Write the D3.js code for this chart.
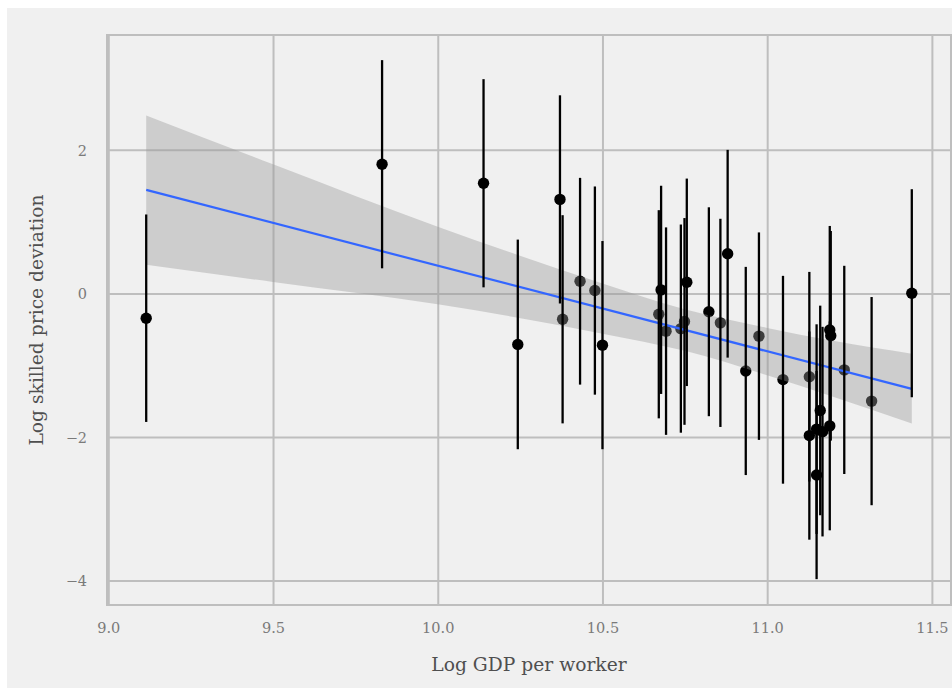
<!DOCTYPE html>
<html>
<head>
<meta charset="utf-8">
<script src="https://cdn.jsdelivr.net/npm/d3@7"></script>
<style>
  body { margin: 0; background: #ffffff; }
  text { font-family: "DejaVu Serif", serif; }
</style>
</head>
<body>
<div id="chart"></div>
<script>
// log GDP per worker, one entry per country
const gdp = [9.115, 9.831, 10.139, 10.371, 10.379, 10.243, 10.432, 10.477, 10.500, 10.671,
             10.678, 10.693, 10.738, 10.749, 10.756, 10.823, 10.858, 10.880, 10.935, 10.975,
             11.048, 11.128, 11.128, 11.150, 11.150, 11.161, 11.168, 11.190, 11.190, 11.193,
             11.234, 11.317, 11.439];
// log skilled price deviation (point estimate)
const price = [-0.345, 1.80, 1.535, 1.31, -0.36, -0.71, 0.17, 0.04, -0.72, -0.29,
               0.05, -0.525, -0.49, -0.39, 0.155, -0.255, -0.41, 0.553, -1.08, -0.595,
               -1.20, -1.16, -1.98, -1.89, -2.53, -1.63, -1.925, -1.845, -0.51, -0.59,
               -1.065, -1.50, 0.003];
// interval ends
const priceLow = [-1.79, 0.35, 0.085, -0.14, -1.81, -2.17, -1.27, -1.41, -2.17, -1.74,
                  -1.40, -1.97, -1.94, -1.83, -1.29, -1.71, -1.86, -0.894, -2.53, -2.04,
                  -2.65, -2.62, -3.43, -3.35, -3.98, -3.09, -3.385, -3.30, -1.96, -2.05,
                  -2.515, -2.95, -1.446];
const priceHigh = [1.10, 3.25, 2.985, 2.76, 1.09, 0.75, 1.61, 1.49, 0.73, 1.16,
                   1.50, 0.92, 0.96, 1.05, 1.60, 1.20, 1.04, 2.00, 0.37, 0.85,
                   0.245, 0.30, -0.53, -0.43, -1.08, -0.17, -0.465, -0.39, 0.94, 0.87,
                   0.385, -0.05, 1.452];

// fitted line and its confidence band
const fitX = [9.115, 11.439];
const fitY = [1.442, -1.330];
const bandX = [9.115, 9.5, 10.0, 10.5, 10.75, 11.0, 11.2, 11.439];
const bandLow = [0.40, 0.16, -0.15, -0.56, -0.80, -1.14, -1.44, -1.81];
const bandHigh = [2.48, 1.80, 0.93, 0.14, -0.22, -0.48, -0.66, -0.84];

const xTicks = [9.0, 9.5, 10.0, 10.5, 11.0, 11.5];
const yTicks = [-4, -2, 0, 2];

const W = 952, H = 688;
const panel = {left: 107, right: 951, top: 35, bottom: 605};

var svg = d3.select('#chart').append('svg')
    .attr('width', W)
    .attr('height', H);

// plot background
svg.append('rect')
    .attr('x', 7).attr('y', 8)
    .attr('width', W - 7).attr('height', H - 8)
    .attr('fill', '#f0f0f0');

var xScale = d3.scaleLinear().domain([8.996, 11.558]).range([panel.left, panel.right]);
var yScale = d3.scaleLinear().domain([-4.34, 3.60]).range([panel.bottom, panel.top]);

// grid via axes, labels styled after
var xAxis = d3.axisBottom(xScale)
    .tickValues(xTicks)
    .tickFormat(d3.format('.1f'))
    .tickSize(-(panel.bottom - panel.top))
    .tickPadding(18);

var yAxis = d3.axisLeft(yScale)
    .tickValues(yTicks)
    .tickFormat(d3.format('d'))
    .tickSize(-(panel.right - panel.left))
    .tickPadding(20);

var gx = svg.append('g')
    .attr('class', 'x axis')
    .attr('transform', 'translate(0,' + panel.bottom + ')')
    .call(xAxis);

var gy = svg.append('g')
    .attr('class', 'y axis')
    .attr('transform', 'translate(' + panel.left + ',0)')
    .call(yAxis);

svg.selectAll('.axis .domain').remove();
svg.selectAll('.axis .tick line')
    .attr('stroke', '#bebebe')
    .attr('stroke-width', 2);
svg.selectAll('.axis .tick text')
    .attr('fill', '#7a7a7a')
    .style('font-size', '14.5px');
gy.selectAll('.tick text').attr('dy', '0.36em');

// panel border
svg.append('rect')
    .attr('x', panel.left).attr('y', panel.top)
    .attr('width', panel.right - panel.left)
    .attr('height', panel.bottom - panel.top)
    .attr('fill', 'none')
    .attr('stroke', '#bebebe')
    .attr('stroke-width', 2);

var idx = d3.range(gdp.length);

// points go first, band sits over them
svg.append('g').selectAll('circle')
    .data(idx)
  .enter().append('circle')
    .attr('cx', function(i){ return xScale(gdp[i]) })
    .attr('cy', function(i){ return yScale(price[i]) })
    .attr('r', 5.7)
    .attr('fill', '#000');

var area = d3.area()
    .x(function(i){ return xScale(bandX[i]) })
    .y0(function(i){ return yScale(bandLow[i]) })
    .y1(function(i){ return yScale(bandHigh[i]) })
    .curve(d3.curveMonotoneX);

svg.append('path')
    .datum(d3.range(bandX.length))
    .attr('d', area)
    .attr('fill', '#999999')
    .attr('fill-opacity', 0.4);

var line = d3.line()
    .x(function(i){ return xScale(fitX[i]) })
    .y(function(i){ return yScale(fitY[i]) });

svg.append('path')
    .datum(d3.range(fitX.length))
    .attr('d', line)
    .attr('fill', 'none')
    .attr('stroke', '#3366ff')
    .attr('stroke-width', 2.2);

// error bars on top
svg.append('g').selectAll('line')
    .data(idx)
  .enter().append('line')
    .attr('x1', function(i){ return xScale(gdp[i]) })
    .attr('x2', function(i){ return xScale(gdp[i]) })
    .attr('y1', function(i){ return yScale(priceLow[i]) })
    .attr('y2', function(i){ return yScale(priceHigh[i]) })
    .attr('stroke', '#000')
    .attr('stroke-width', 2.3);

// axis titles
svg.append('text')
    .attr('x', (panel.left + panel.right) / 2)
    .attr('y', 671)
    .attr('text-anchor', 'middle')
    .attr('fill', '#4f4f4f')
    .style('font-size', '18.7px')
    .text('Log GDP per worker');

svg.append('text')
    .attr('transform', 'translate(43,' + (panel.top + panel.bottom) / 2 + ') rotate(-90)')
    .attr('text-anchor', 'middle')
    .attr('fill', '#4f4f4f')
    .style('font-size', '18.7px')
    .text('Log skilled price deviation');
</script>
</body>
</html>
